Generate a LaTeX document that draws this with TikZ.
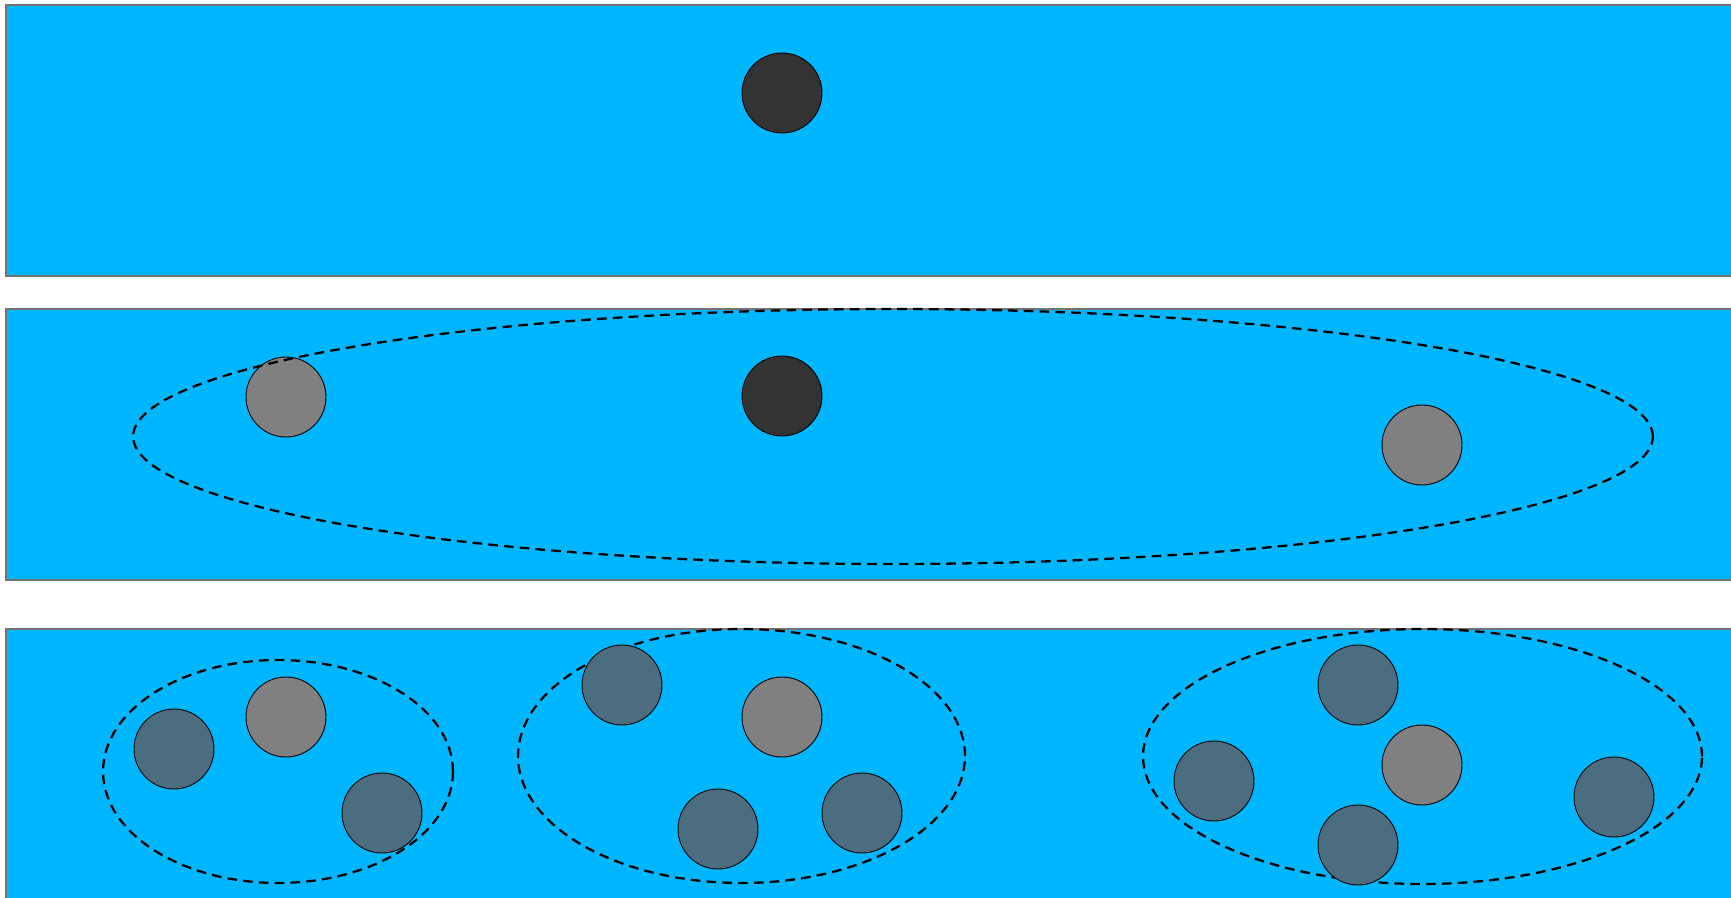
\documentclass[tikz,border=0pt]{standalone}
\usepackage{tikz}
\usetikzlibrary{positioning}

\definecolor{water}{RGB}{0,183,255}
\definecolor{darkball}{RGB}{51,51,51}
\definecolor{greyball}{RGB}{128,128,128}
\definecolor{slateball}{RGB}{76,108,128}

\begin{document}
\begin{tikzpicture}[x=0.02cm,y=-0.02cm,
    panel/.style={fill=water,draw=black!55,line width=0.6pt},
    ball/.style={circle,draw=black,line width=0.5pt,minimum size=1.6cm,inner sep=0pt},
    dark/.style={ball,fill=darkball},
    grey/.style={ball,fill=greyball},
    slate/.style={ball,fill=slateball},
    group/.style={draw=black,line width=1.3pt,dash pattern=on 5.5pt off 3.5pt}]

    \useasboundingbox (0,0) rectangle (1731,898);
    \clip (0,0) rectangle (1731,898);

    % the three strips
    \draw[panel] (6,5) rectangle (1745,276);
    \draw[panel] (6,309) rectangle (1745,580);
    \draw[panel] (6,629) rectangle (1745,915);

    % strip 1
    \node[dark] (a1) at (782,93) {};

    % strip 2
    \node[dark] (b1) at (782,396) {};
    \node[grey] (b2) at (286,397) {};
    \node[grey] (b3) at (1422,445) {};
    \draw[group] (893,436.5) ellipse [x radius=15.2cm, y radius=2.55cm];

    % strip 3
    \draw[group] (278,771.5) ellipse [x radius=3.5cm, y radius=2.23cm];
    \draw[group] (741.5,756) ellipse [x radius=4.47cm, y radius=2.54cm];
    \draw[group] (1422.5,756.5) ellipse [x radius=5.59cm, y radius=2.55cm];

    \node[slate] (c1) at (174,749) {};
    \node[grey]  (c2) at (286,717) {};
    \node[slate] (c3) at (382,813) {};

    \node[slate] (d1) at (622,685) {};
    \node[grey]  (d2) at (782,717) {};
    \node[slate] (d3) at (718,829) {};
    \node[slate] (d4) at (862,813) {};

    \node[slate] (e1) at (1358,685) {};
    \node[grey]  (e2) at (1422,765) {};
    \node[slate] (e3) at (1214,781) {};
    \node[slate] (e4) at (1358,845) {};
    \node[slate] (e5) at (1614,797) {};
\end{tikzpicture}
\end{document}
